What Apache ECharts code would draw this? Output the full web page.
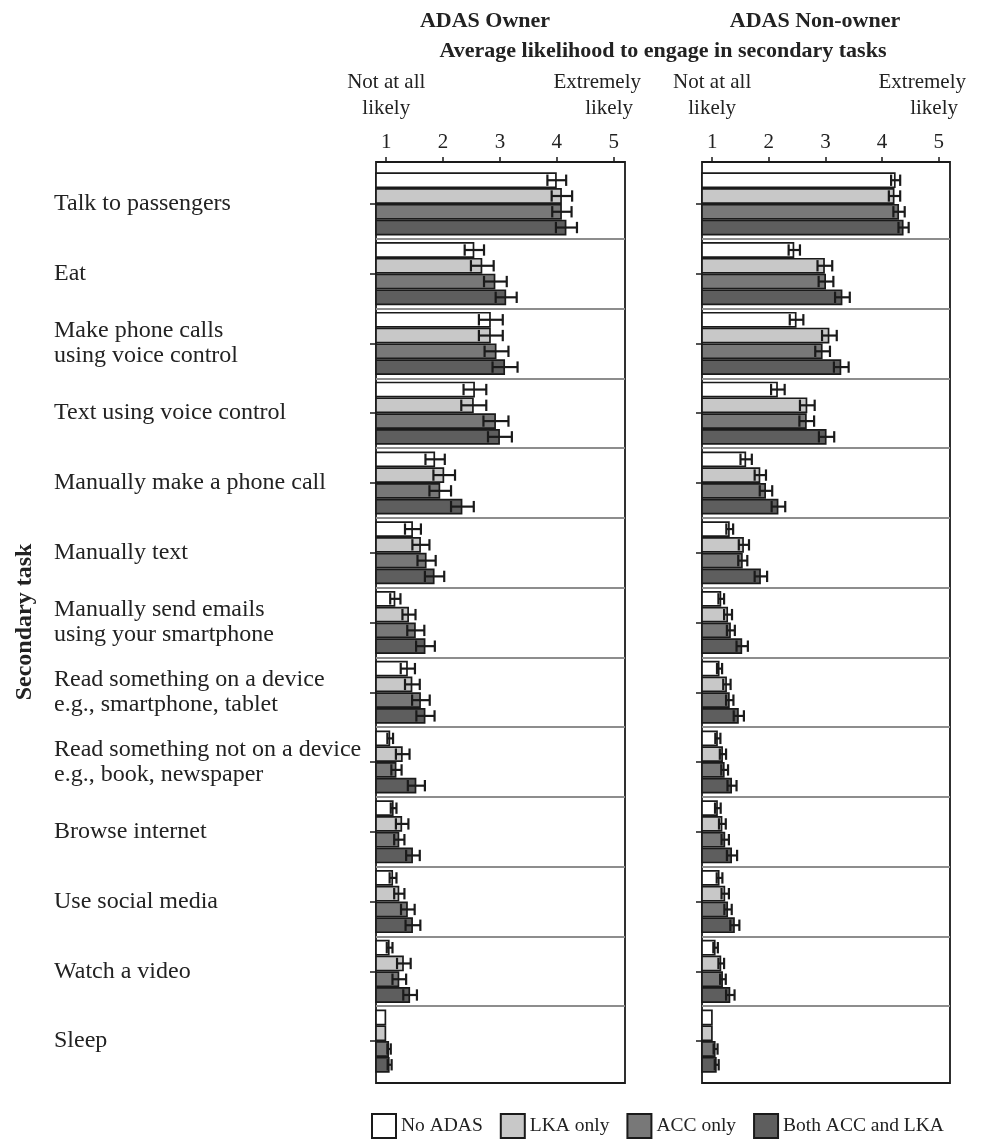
<!DOCTYPE html>
<html>
<head>
<meta charset="utf-8">
<script src="https://cdn.jsdelivr.net/npm/echarts@6/dist/echarts.min.js"></script>
<style>
  html, body { margin: 0; padding: 0; background: #ffffff; }
  #chart { width: 987px; height: 1139px; }
</style>
</head>
<body>
<div id="chart"></div>
<script>
// Secondary tasks (rows, top to bottom)
const tasks = [
  'Talk to passengers',
  'Eat',
  'Make phone calls\nusing voice control',
  'Text using voice control',
  'Manually make a phone call',
  'Manually text',
  'Manually send emails\nusing your smartphone',
  'Read something on a device\ne.g., smartphone, tablet',
  'Read something not on a device\ne.g., book, newspaper',
  'Browse internet',
  'Use social media',
  'Watch a video',
  'Sleep'
];

// Vehicle equipment groups
const groups = ['No ADAS', 'LKA only', 'ACC only', 'Both ACC and LKA'];
const groupColors = ['#ffffff', '#c8c8c8', '#787878', '#5e5e5e'];

// Likert scale ticks
const scaleTicks = [1, 2, 3, 4, 5];

// ADAS owners: mean likelihood
const ownerNoAdas = [4.00, 2.55, 2.84, 2.56, 1.86, 1.47, 1.16, 1.38, 1.07, 1.13, 1.12, 1.06, 1.00];
const ownerLka    = [4.09, 2.69, 2.84, 2.54, 2.02, 1.61, 1.40, 1.46, 1.29, 1.28, 1.23, 1.31, 1.00];
const ownerAcc    = [4.09, 2.92, 2.94, 2.93, 1.95, 1.71, 1.52, 1.61, 1.18, 1.23, 1.38, 1.23, 1.05];
const ownerBoth   = [4.17, 3.11, 3.09, 3.00, 2.34, 1.85, 1.69, 1.69, 1.53, 1.47, 1.47, 1.42, 1.06];

// ADAS owners: standard error
const ownerNoAdasErr = [0.165, 0.17, 0.21, 0.20, 0.17, 0.14, 0.09, 0.125, 0.05, 0.05, 0.06, 0.05, 0];
const ownerLkaErr    = [0.18, 0.20, 0.21, 0.22, 0.19, 0.15, 0.115, 0.13, 0.12, 0.11, 0.09, 0.12, 0];
const ownerAccErr    = [0.17, 0.20, 0.21, 0.22, 0.19, 0.16, 0.15, 0.155, 0.09, 0.09, 0.12, 0.12, 0.03];
const ownerBothErr   = [0.185, 0.185, 0.22, 0.21, 0.20, 0.17, 0.165, 0.16, 0.15, 0.12, 0.13, 0.12, 0.035];

// ADAS non-owners: mean likelihood
const nonOwnerNoAdas = [4.24, 2.45, 2.49, 2.16, 1.60, 1.31, 1.16, 1.13, 1.10, 1.10, 1.13, 1.06, 1.01];
const nonOwnerLka    = [4.22, 2.99, 3.07, 2.68, 1.85, 1.56, 1.28, 1.26, 1.19, 1.18, 1.23, 1.16, 1.01];
const nonOwnerAcc    = [4.30, 3.01, 2.95, 2.67, 1.95, 1.54, 1.33, 1.31, 1.22, 1.23, 1.28, 1.19, 1.06];
const nonOwnerBoth   = [4.38, 3.30, 3.28, 3.02, 2.17, 1.86, 1.53, 1.47, 1.35, 1.35, 1.40, 1.32, 1.08];

// ADAS non-owners: standard error
const nonOwnerNoAdasErr = [0.08, 0.10, 0.12, 0.12, 0.10, 0.06, 0.05, 0.045, 0.045, 0.05, 0.05, 0.04, 0];
const nonOwnerLkaErr    = [0.10, 0.13, 0.13, 0.13, 0.10, 0.09, 0.07, 0.065, 0.055, 0.06, 0.065, 0.05, 0];
const nonOwnerAccErr    = [0.10, 0.13, 0.13, 0.13, 0.11, 0.08, 0.07, 0.065, 0.06, 0.065, 0.065, 0.05, 0.035];
const nonOwnerBothErr   = [0.09, 0.13, 0.13, 0.135, 0.12, 0.11, 0.10, 0.09, 0.08, 0.09, 0.08, 0.075, 0.035];

const FONT = '"Liberation Serif", "Times New Roman", Times, serif';
const INK = '#1a1a1a';
const TEXT = '#222222';

const X_MIN = 0.82, X_MAX = 5.2;
const FRAME_TOP = 162, FRAME_H = 921;
const DATA_TOP = 169, DATA_H = 907;
const BAR_FRAC = 0.226;

const panels = [
  { title: 'ADAS Owner', titleX: 485, left: 376, width: 249, showLabels: true,
    means: [ownerNoAdas, ownerLka, ownerAcc, ownerBoth],
    errs: [ownerNoAdasErr, ownerLkaErr, ownerAccErr, ownerBothErr] },
  { title: 'ADAS Non-owner', titleX: 815, left: 702, width: 248, showLabels: false,
    means: [nonOwnerNoAdas, nonOwnerLka, nonOwnerAcc, nonOwnerBoth],
    errs: [nonOwnerNoAdasErr, nonOwnerLkaErr, nonOwnerAccErr, nonOwnerBothErr] }
];

function textStyle(text, font, align) {
  return { text, font, fill: TEXT, textAlign: align, textVerticalAlign: 'middle', align, verticalAlign: 'middle' };
}

// Error bar drawn at the centre of the k-th bar within a category band
function errorBar(k) {
  return function (params, api) {
    const v = api.value(0), cat = api.value(1), e = api.value(2);
    if (!e) return null;
    const band = api.size([0, 1])[1];
    const bw = band * BAR_FRAC;
    const y = api.coord([v, cat])[1] + (k - 1.5) * bw;
    const x0 = api.coord([v - e, cat])[0];
    const x1 = api.coord([v + e, cat])[0];
    const cap = bw * 0.36;
    const style = { stroke: INK, lineWidth: 2.2 };
    return {
      type: 'group',
      children: [
        { type: 'line', shape: { x1: x0, y1: y, x2: x1, y2: y }, style },
        { type: 'line', shape: { x1: x0, y1: y - cap, x2: x0, y2: y + cap }, style },
        { type: 'line', shape: { x1: x1, y1: y - cap, x2: x1, y2: y + cap }, style }
      ]
    };
  };
}

const grid = [], xAxis = [], yAxis = [], series = [], graphic = [];

panels.forEach((p, i) => {
  const fIdx = 2 * i, dIdx = 2 * i + 1;

  // outer frame carrying the top scale
  grid.push({ left: p.left, top: FRAME_TOP, width: p.width, height: FRAME_H,
              show: true, borderColor: INK, borderWidth: 1.8, backgroundColor: 'transparent' });
  // inner plotting area for the bars
  grid.push({ left: p.left, top: DATA_TOP, width: p.width, height: DATA_H });

  xAxis.push({
    gridIndex: fIdx, type: 'value', min: X_MIN, max: X_MAX, position: 'top',
    axisLine: { show: false, onZero: false },
    axisTick: { show: true, customValues: scaleTicks, length: 5, lineStyle: { color: INK, width: 1.5 } },
    axisLabel: { customValues: scaleTicks, fontFamily: FONT, fontSize: 21, color: TEXT, margin: 9 },
    splitLine: { show: false }
  });
  yAxis.push({ gridIndex: fIdx, type: 'value', show: false, min: 0, max: 1 });

  xAxis.push({ gridIndex: dIdx, type: 'value', min: X_MIN, max: X_MAX, show: false,
               axisLine: { onZero: false } });
  yAxis.push({
    gridIndex: dIdx, type: 'category', data: tasks, inverse: true,
    axisLine: { show: false, onZero: false },
    axisTick: { show: true, alignWithLabel: true, interval: 0, length: 6, lineStyle: { color: INK, width: 1.5 } },
    axisLabel: p.showLabels
      ? { show: true, interval: 0, align: 'left', margin: 322, fontFamily: FONT, fontSize: 24, lineHeight: 25, color: TEXT }
      : { show: false },
    splitLine: { show: true, showMinLine: false, showMaxLine: false, interval: 0,
                 lineStyle: { color: '#8d8d8d', width: 2.2 } }
  });

  groups.forEach((g, k) => {
    series.push({
      type: 'bar', name: g, xAxisIndex: dIdx, yAxisIndex: dIdx,
      data: p.means[k],
      barWidth: (BAR_FRAC * 100) + '%', barGap: '0%',
      itemStyle: { color: groupColors[k], borderColor: INK, borderWidth: 1.7 },
      silent: true
    });
  });
  groups.forEach((g, k) => {
    series.push({
      type: 'custom', name: g + ' SE', xAxisIndex: dIdx, yAxisIndex: dIdx,
      encode: { x: 0, y: 1 },
      data: p.means[k].map((m, j) => [m, j, p.errs[k][j]]),
      renderItem: errorBar(k), z: 5, silent: true
    });
  });

  // scale end captions
  const px = v => p.left + (v - X_MIN) / (X_MAX - X_MIN) * p.width;
  const small = '21px ' + FONT;
  graphic.push({ type: 'text', x: px(1), y: 82, style: textStyle('Not at all', small, 'center') });
  graphic.push({ type: 'text', x: px(1), y: 108, style: textStyle('likely', small, 'center') });
  graphic.push({ type: 'text', x: p.left + p.width + 16, y: 82, style: textStyle('Extremely', small, 'right') });
  graphic.push({ type: 'text', x: p.left + p.width + 8, y: 108, style: textStyle('likely', small, 'right') });

  graphic.push({ type: 'text', x: p.titleX, y: 21, style: textStyle(p.title, 'bold 22px ' + FONT, 'center') });
});

graphic.push({ type: 'text', x: 663, y: 51,
  style: textStyle('Average likelihood to engage in secondary tasks', 'bold 22px ' + FONT, 'center') });
graphic.push({ type: 'text', x: 25, y: 622, rotation: Math.PI / 2,
  style: textStyle('Secondary task', 'bold 24px ' + FONT, 'center') });

const chart = echarts.init(document.getElementById('chart'), null, { renderer: 'canvas' });
chart.setOption({
  animation: false,
  backgroundColor: '#ffffff',
  grid, xAxis, yAxis, series, graphic,
  legend: {
    data: groups, left: 366, top: 1108, icon: 'rect',
    itemWidth: 24, itemHeight: 24, itemGap: 17, selectedMode: false,
    itemStyle: { borderColor: INK, borderWidth: 2 },
    textStyle: { fontFamily: FONT, fontSize: 19.5, color: TEXT }
  }
});
</script>
</body>
</html>
